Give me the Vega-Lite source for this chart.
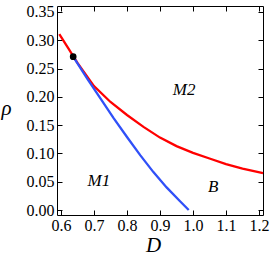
{
  "$schema": "https://vega.github.io/schema/vega-lite/v6.json",
  "width": 206,
  "height": 209,
  "autosize": {"type": "none"},
  "padding": {"left": 57, "top": 6, "right": 10, "bottom": 40},
  "background": "white",
  "config": {
    "view": {"stroke": "black", "strokeWidth": 1},
    "axis": {
      "labelFont": "Liberation Serif",
      "labelFontSize": 16,
      "labelColor": "black",
      "titleFont": "Liberation Serif",
      "titleFontStyle": "italic",
      "titleFontWeight": "normal",
      "titleFontSize": 21,
      "titleColor": "black",
      "domain": false,
      "ticks": false,
      "grid": true,
      "gridColor": "black",
      "gridOpacity": 1,
      "gridWidth": 1
    }
  },
  "datasets": {
    "red": [
      {"D": 0.595, "rho": 0.311},
      {"D": 0.62, "rho": 0.288},
      {"D": 0.65, "rho": 0.260},
      {"D": 0.70, "rho": 0.219},
      {"D": 0.75, "rho": 0.191},
      {"D": 0.80, "rho": 0.168},
      {"D": 0.85, "rho": 0.147},
      {"D": 0.90, "rho": 0.128},
      {"D": 0.95, "rho": 0.113},
      {"D": 1.00, "rho": 0.101},
      {"D": 1.05, "rho": 0.091},
      {"D": 1.10, "rho": 0.081},
      {"D": 1.15, "rho": 0.073},
      {"D": 1.212, "rho": 0.065}
    ],
    "blue": [
      {"D": 0.637, "rho": 0.271},
      {"D": 0.68, "rho": 0.232},
      {"D": 0.72, "rho": 0.197},
      {"D": 0.76, "rho": 0.162},
      {"D": 0.80, "rho": 0.129},
      {"D": 0.84, "rho": 0.097},
      {"D": 0.88, "rho": 0.067},
      {"D": 0.92, "rho": 0.040},
      {"D": 0.96, "rho": 0.016},
      {"D": 0.987, "rho": 0.0}
    ],
    "dot": [{"D": 0.637, "rho": 0.271}],
    "labels": [
      {"D": 0.973, "rho": 0.212, "t": "M2"},
      {"D": 0.715, "rho": 0.051, "t": "M1"},
      {"D": 1.061, "rho": 0.041, "t": "B"}
    ]
  },
  "layer": [
    {
      "data": {"name": "red"},
      "mark": {"type": "line", "color": "#ff0000", "strokeWidth": 2.3},
      "encoding": {
        "x": {
          "field": "D", "type": "quantitative",
          "scale": {"domain": [0.588, 1.212], "nice": false, "zero": false},
          "axis": {
            "orient": "bottom", "labelPadding": 2,
            "values": [0.6, 0.7, 0.8, 0.9, 1.0, 1.1, 1.2],
            "gridDash": [5, 199, 5, 1000],
            "format": ".1f", "labelFlush": false, "labelOverlap": false,
            "title": "D", "titleX": 96, "titleY": 36, "titleBaseline": "alphabetic", "titleAlign": "center"
          }
        },
        "y": {
          "field": "rho", "type": "quantitative",
          "scale": {"domain": [-0.0088, 0.3606], "nice": false, "zero": false},
          "axis": {
            "orient": "left", "labelPadding": 3,
            "values": [0, 0.05, 0.1, 0.15, 0.2, 0.25, 0.3, 0.35],
            "gridDash": [5, 196, 5, 1000],
            "format": ".2f", "labelFlush": false, "labelOverlap": false,
            "title": "ρ", "titleAngle": 0, "titleX": -51, "titleY": 108, "titleBaseline": "alphabetic", "titleAlign": "center"
          }
        }
      }
    },
    {
      "data": {"name": "blue"},
      "mark": {"type": "line", "color": "#3050f8", "strokeWidth": 2.3},
      "encoding": {
        "x": {
          "field": "D", "type": "quantitative",
          "axis": {
            "orient": "bottom", "labels": false, "title": null,
            "gridDash": [2.5, 204, 2.5, 1000],
            "values": [0.6, 0.62, 0.64, 0.66, 0.68, 0.7, 0.72, 0.74, 0.76, 0.78, 0.8, 0.82, 0.84, 0.86, 0.88, 0.9, 0.92, 0.94, 0.96, 0.98, 1.0, 1.02, 1.04, 1.06, 1.08, 1.1, 1.12, 1.14, 1.16, 1.18, 1.2]
          }
        },
        "y": {
          "field": "rho", "type": "quantitative",
          "axis": {
            "orient": "left", "labels": false, "title": null,
            "gridDash": [2.5, 201, 2.5, 1000],
            "values": [0, 0.01, 0.02, 0.03, 0.04, 0.05, 0.06, 0.07, 0.08, 0.09, 0.1, 0.11, 0.12, 0.13, 0.14, 0.15, 0.16, 0.17, 0.18, 0.19, 0.2, 0.21, 0.22, 0.23, 0.24, 0.25, 0.26, 0.27, 0.28, 0.29, 0.3, 0.31, 0.32, 0.33, 0.34, 0.35, 0.36]
          }
        }
      }
    },
    {
      "data": {"name": "dot"},
      "mark": {"type": "circle", "color": "black", "opacity": 1, "size": 45},
      "encoding": {
        "x": {"field": "D", "type": "quantitative", "axis": null},
        "y": {"field": "rho", "type": "quantitative", "axis": null}
      }
    },
    {
      "data": {"name": "labels"},
      "mark": {"type": "text", "font": "Liberation Serif", "fontStyle": "italic", "fontSize": 17, "color": "black", "align": "center", "baseline": "middle"},
      "encoding": {
        "x": {"field": "D", "type": "quantitative", "axis": null},
        "y": {"field": "rho", "type": "quantitative", "axis": null},
        "text": {"field": "t"}
      }
    }
  ],
  "resolve": {"axis": {"x": "independent", "y": "independent"}}
}
